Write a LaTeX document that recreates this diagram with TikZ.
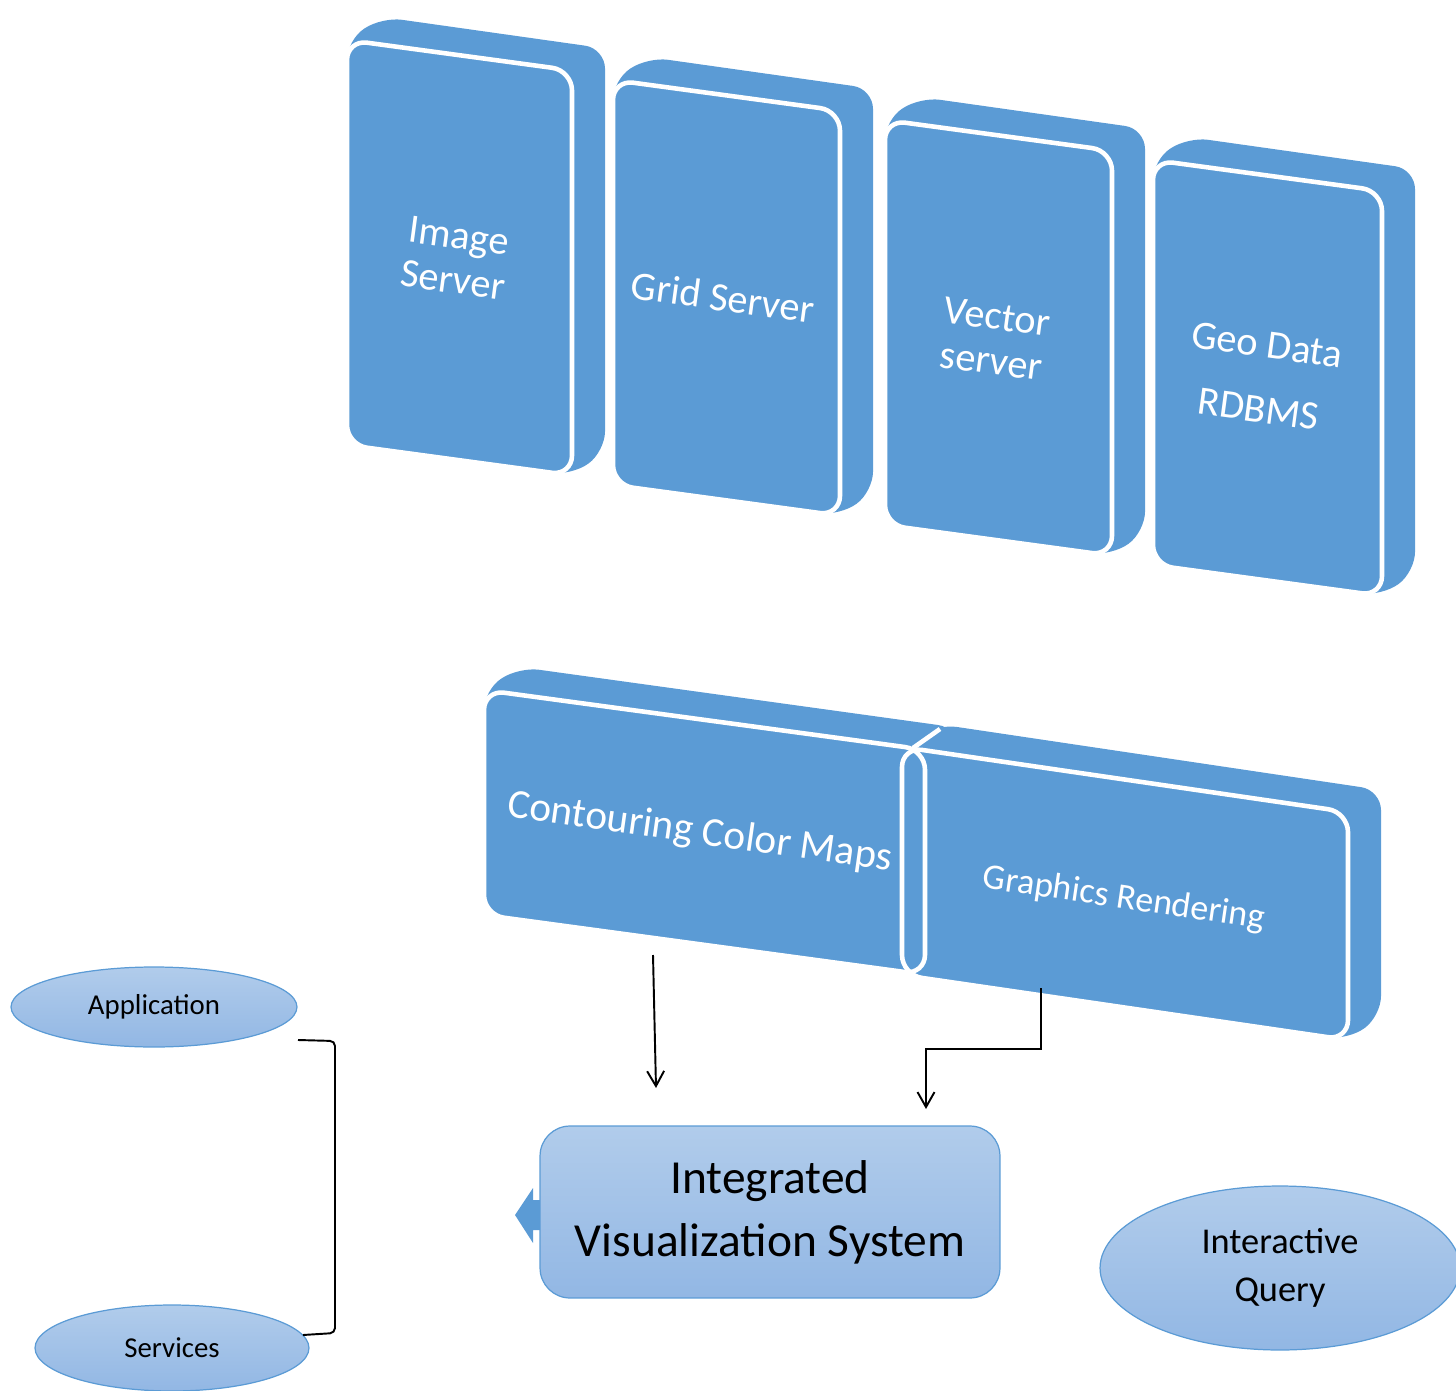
\documentclass[tikz,border=0pt]{standalone}
\usepackage{fontspec}
\setmainfont{Carlito}
\usetikzlibrary{arrows.meta,shapes.geometric}
\definecolor{slabblue}{RGB}{91,155,213}
\definecolor{lighttop}{RGB}{177,204,235}
\definecolor{lightbot}{RGB}{146,183,228}
% L T W H s : back hull of a tilted slab
\newcommand{\slabhull}[5]{%
  \fill[slabblue, rounded corners=0.4cm] (#1,#2) -- (#1+35,#2-23) -- (#1+#3+33,#2+#5*#3-22)
    -- (#1+#3+33,#2+#5*#3+#4-24) -- (#1+#3,#2+#5*#3+#4) -- (#1,#2+#4) -- cycle;}
% L T W H s style : front face
\newcommand{\slabface}[6]{%
  \path[#6, rounded corners=0.4cm] (#1,#2) -- (#1+#3,#2+#5*#3)
    -- (#1+#3,#2+#5*#3+#4) -- (#1,#2+#4) -- cycle;}
\begin{document}
\begin{tikzpicture}[x=0.02cm,y=-0.02cm,
  slabtext/.style={text=white, font=\fontsize{23}{25.5}\selectfont, align=center, rotate=-7.7},
  softfill/.style={top color=lighttop, bottom color=lightbot, draw=slabblue, line width=0.7pt},
  flow/.style={draw=black, line width=1.1pt, -{Straight Barb[length=0.3cm,width=0.34cm]}},
  bracketline/.style={draw=black, line width=1.1pt, rounded corners=0.1cm},
]
\useasboundingbox (0,0) rectangle (1456,1391);

% top slabs
\slabhull{347}{40}{225}{405}{0.1355}
\slabface{347}{40}{225}{405}{0.1355}{fill=slabblue, draw=white, line width=2.6pt}
\slabhull{613}{80}{227}{405}{0.1355}
\slabface{613}{80}{227}{405}{0.1355}{fill=slabblue, draw=white, line width=2.6pt}
\slabhull{885}{120}{227}{405}{0.1355}
\slabface{885}{120}{227}{405}{0.1355}{fill=slabblue, draw=white, line width=2.6pt}
\slabhull{1153}{160}{229}{405}{0.1355}
\slabface{1153}{160}{229}{405}{0.1355}{fill=slabblue, draw=white, line width=2.6pt}

\node[slabtext] (img) at (456,258) {Image\\Server};
\node[slabtext] (grid) at (723,297) {Grid Server};
\node[slabtext] (vec) at (994,339) {Vector\\server};
\node[slabtext] (geo) at (1263,377) {Geo Data\\[0.4cm]RDBMS};

% middle slabs
\slabhull{484}{690}{441}{225}{0.1355}
\slabhull{902}{747}{446}{228}{0.146}
\slabface{484}{690}{441}{225}{0.1355}{fill=slabblue}
\slabface{902}{747}{446}{228}{0.146}{fill=slabblue}
\slabface{484}{690}{441}{225}{0.1355}{draw=white, line width=2.6pt}
\slabface{902}{747}{446}{228}{0.146}{draw=white, line width=2.6pt}
\draw[white, line width=2.6pt] (913,748) -- (940,729);

\node[slabtext, rotate=-0.4, font=\fontsize{23.5}{26}\selectfont] (cont) at (700,833) {Contouring Color Maps};
\node[slabtext, rotate=-0.6, font=\fontsize{20.5}{24}\selectfont] (graph) at (1124,899) {Graphics Rendering};

% block arrow stub
\fill[slabblue] (548,1200) -- (533,1200) -- (533,1188) -- (515,1215) -- (533,1243) -- (533,1230) -- (548,1230) -- cycle;

\node[softfill, rounded corners=0.6cm, minimum width=9.2cm, minimum height=3.44cm,
  align=center, font=\fontsize{27}{35.7}\selectfont] (ivs) at (770,1212) {Integrated\\Visualization System};

% arrows
\coordinate (c1) at (653,955);
\coordinate (c1e) at (656,1088);
\draw[flow] (c1) -- (c1e);
\coordinate (c2) at (1041,988);
\coordinate (c2e) at (926,1109);
\draw[flow] (c2) -- ++(0,61) -| (c2e);

% ellipses
\node[ellipse, softfill, minimum width=5.72cm, minimum height=1.6cm,
  font=\fontsize{16.4}{20}\selectfont] (app) at (154,1007) {Application};
\node[ellipse, softfill, minimum width=5.48cm, minimum height=1.72cm,
  font=\fontsize{16.4}{20}\selectfont] (svc) at (172,1348) {Services};
\node[ellipse, softfill, minimum width=7.2cm, minimum height=3.28cm, align=center,
  font=\fontsize{20.7}{27.5}\selectfont] (iq) at (1280,1268) {Interactive\\Query};

% bracket
\coordinate (b1) at (298,1040);
\coordinate (b2) at (303,1335);
\draw[bracketline] (b1) -- (335,1041) -- (335,1333) -- (b2);
\end{tikzpicture}
\end{document}
